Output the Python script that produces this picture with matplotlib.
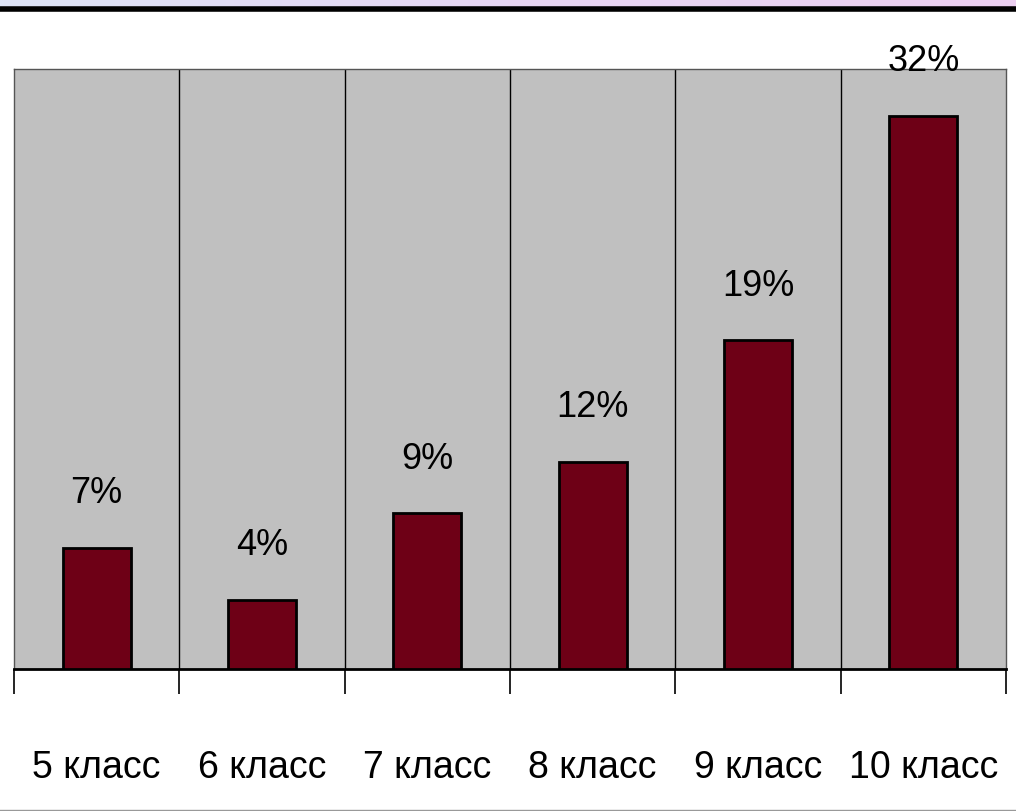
import numpy as np
import matplotlib
matplotlib.use("Agg")
import matplotlib.pyplot as plt
from matplotlib.colors import LinearSegmentedColormap

categories = ["5 класс", "6 класс", "7 класс", "8 класс", "9 класс", "10 класс"]
values = [7, 4, 9, 12, 19, 32]
value_labels = ["7%", "4%", "9%", "12%", "19%", "32%"]

plt.rcParams["font.family"] = ["Liberation Sans", "DejaVu Sans"]

W, H = 1016, 812
fig = plt.figure(figsize=(W / 100, H / 100), dpi=100)
fig.patch.set_facecolor("white")

# top decorative band: lavender gradient + black rule
band = fig.add_axes([0, 1 - 8 / H, 1, 8 / H])
grad = np.linspace(0, 1, 256)[None, :]
cm = LinearSegmentedColormap.from_list("lav", ["#dde3f6", "#e6d6f3", "#eccff0"])
band.imshow(grad, aspect="auto", cmap=cm, extent=[0, 1, 0, 1])
band.axis("off")
fig.add_artist(plt.Line2D([0, 1], [1 - 10 / H, 1 - 10 / H], transform=fig.transFigure,
                          color="black", lw=4))
fig.add_artist(plt.Line2D([0, 1], [1.5 / H, 1.5 / H], transform=fig.transFigure,
                          color="#999999", lw=1))

left, right, bottom, top = 14, 1006, 670, 70
ax = fig.add_axes([left / W, (H - bottom) / H, (right - left) / W, (bottom - top) / H])
ax.set_facecolor("#c0c0c0")

x = np.arange(len(categories))
ax.bar(x, values, width=0.41, color="#6e0016", edgecolor="black", linewidth=2, zorder=3)
ax.set_xlim(-0.5, len(categories) - 0.5)
ax.set_ylim(0, 34.7)

for b in np.arange(0.5, len(categories) - 0.5):
    ax.axvline(b, color="black", lw=1, zorder=2)

for xi, v, lab in zip(x, values, value_labels):
    ax.text(xi, v + 3.2, lab, ha="center", va="center", fontsize=26, color="black", zorder=5,
            clip_on=False)

ax.set_xticks(np.arange(-0.5, len(categories)))
ax.set_xticklabels([])
ax.tick_params(axis="x", length=18, width=1.2, color="black", direction="out")
ax.set_yticks([])
for xi, c in zip(x, categories):
    ax.text(xi, -0.163, c, transform=ax.get_xaxis_transform(), ha="center", va="center",
            fontsize=27, color="black")

for s in ["left", "right", "top"]:
    ax.spines[s].set_color("#555555")
    ax.spines[s].set_linewidth(1)
ax.spines["bottom"].set_color("black")
ax.spines["bottom"].set_linewidth(2)

fig.savefig("out.png", dpi=100)
